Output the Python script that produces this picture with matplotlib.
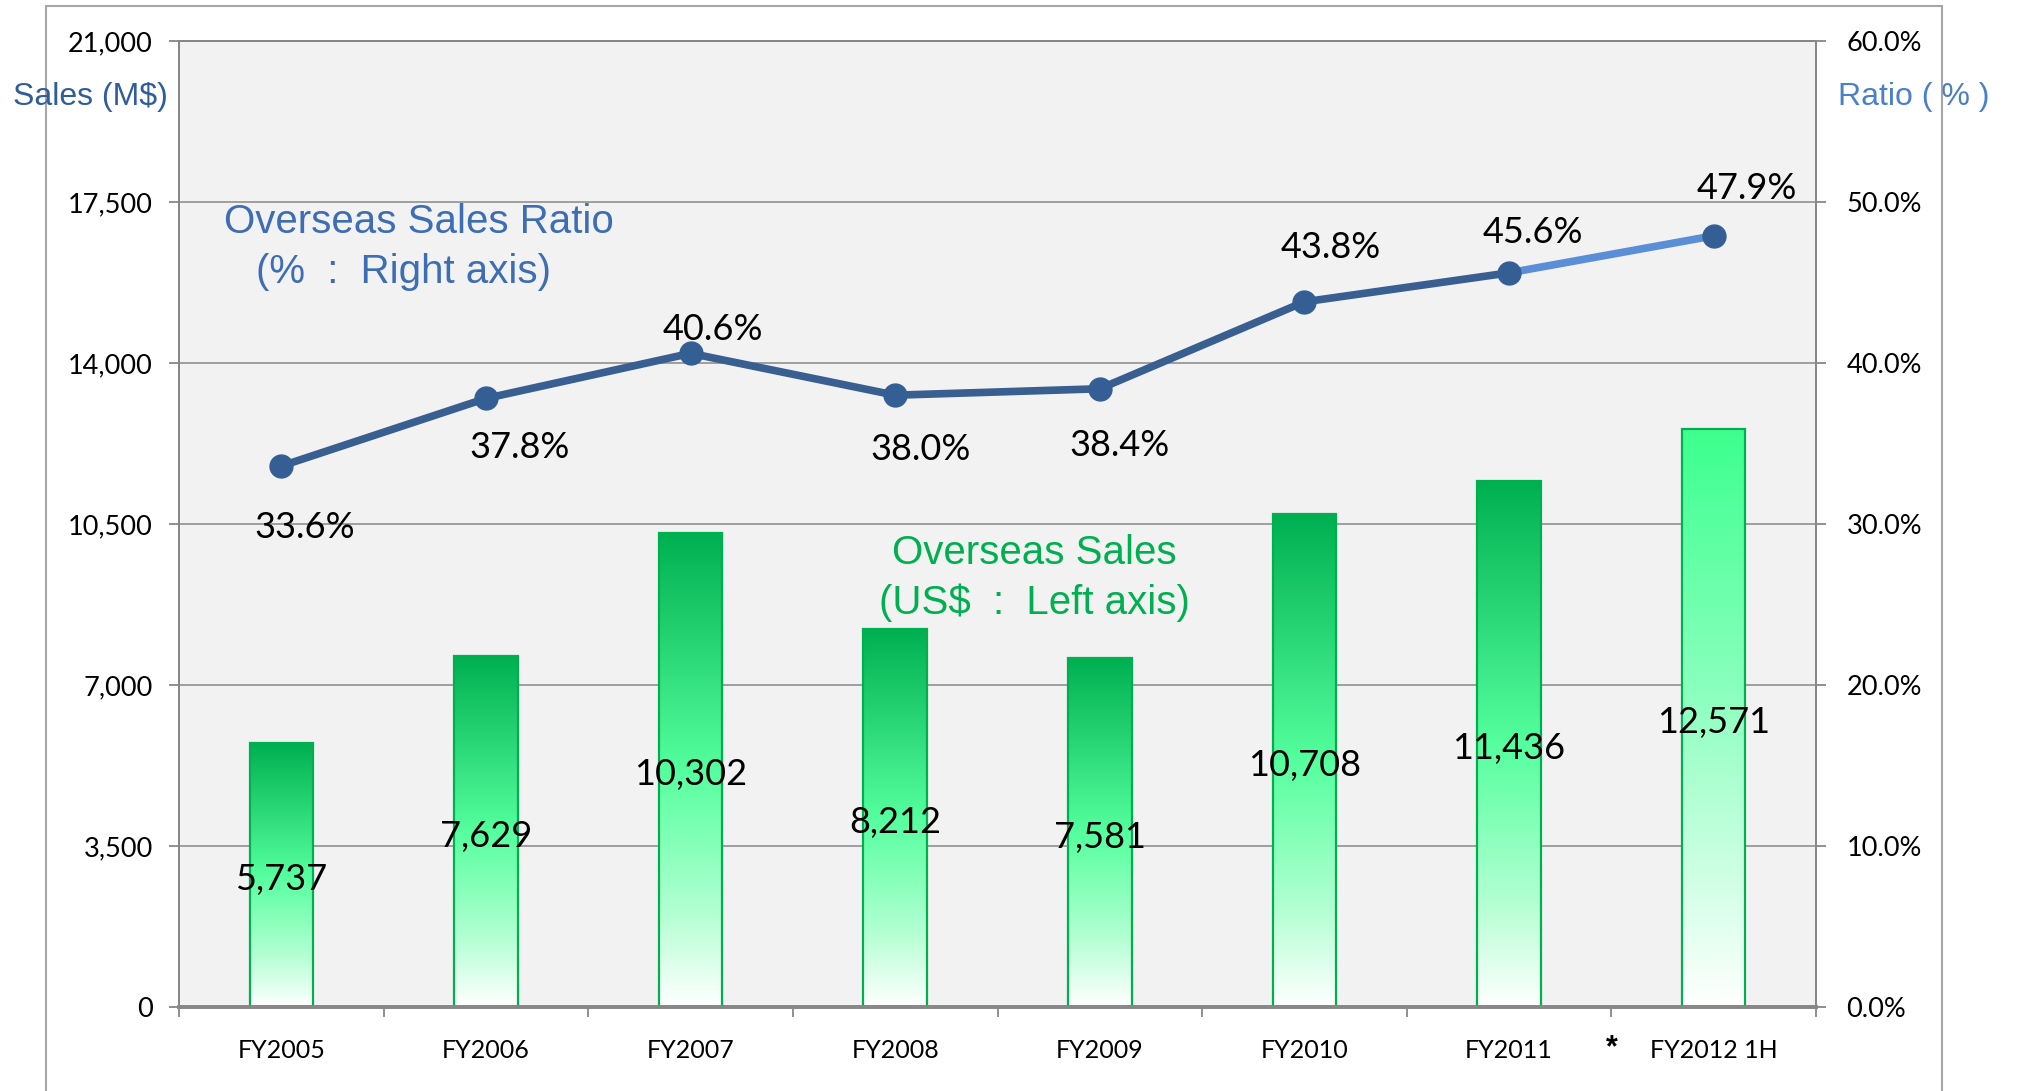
import numpy as np
import matplotlib
matplotlib.use("Agg")
import matplotlib.pyplot as plt
from matplotlib.colors import LinearSegmentedColormap
from matplotlib.patches import Rectangle
from matplotlib.ticker import FuncFormatter, FixedLocator

# ---------------- data ----------------
categories = ["FY2005", "FY2006", "FY2007", "FY2008", "FY2009", "FY2010", "FY2011", "FY2012 1H"]
overseas_sales = [5737, 7629, 10302, 8212, 7581, 10708, 11436, 12571]
overseas_ratio = [33.6, 37.8, 40.6, 38.0, 38.4, 43.8, 45.6, 47.9]
left_ticks = [0, 3500, 7000, 10500, 14000, 17500, 21000]
right_ticks = [0, 10, 20, 30, 40, 50, 60]

# label offsets (points) for ratio labels
ratio_label_offsets = [(17, -44), (24, -35), (16, 17), (18, -39), (14, -41), (19, 39), (17, 29), (24, 34)]

W, H = 2020, 1091
DPI = 100
fig = plt.figure(figsize=(W / DPI, H / DPI), dpi=DPI)
fig.patch.set_facecolor("white")

def px(x, y):
    return x / W, 1 - y / H

L, R, T, B = 179, 1816, 41, 1007
ax = fig.add_axes([L / W, 1 - B / H, (R - L) / W, (B - T) / H])
ax.set_facecolor("#F2F2F2")
ax2 = ax.twinx()
ax2.patch.set_visible(False)

GRAY = "#878787"
NUM_FONT = ["Lato", "DejaVu Sans"]
ARIAL = ["Liberation Sans", "DejaVu Sans"]

x = np.arange(len(categories))

# ---------------- bars with gradient ----------------
bar_w = 0.31
bars = ax.bar(x, overseas_sales, width=bar_w, facecolor="none",
              edgecolor="#00B050", linewidth=1.6, zorder=3)

cmap_normal = LinearSegmentedColormap.from_list(
    "g1", [(0.0, "#00B050"), (0.5, "#55FF9E"), (0.8, "#B2FFD2"), (1.0, "#FFFFFF")])
cmap_last = LinearSegmentedColormap.from_list(
    "g2", [(0.0, "#3CFF8E"), (0.45, "#8AFFBE"), (1.0, "#FFFFFF")])
grad = np.linspace(0, 1, 256).reshape(-1, 1)
for i, b in enumerate(bars):
    cm = cmap_last if i == len(bars) - 1 else cmap_normal
    x0 = b.get_x()
    im = ax.imshow(grad, cmap=cm, aspect="auto", origin="upper",
                   extent=[x0, x0 + b.get_width(), 0, b.get_height()],
                   zorder=2, interpolation="bilinear")
    im.set_clip_path(b)

for i, v in enumerate(overseas_sales):
    ax.text(x[i], v / 2 - 100, f"{v:,}", ha="center", va="center",
            fontsize=26, family=NUM_FONT, color="black", zorder=5)

# ---------------- axes styling ----------------
ax.set_xlim(-0.5, len(categories) - 0.5)
ax.set_ylim(0, 21000)
ax2.set_ylim(0, 60)

ax.yaxis.set_major_locator(FixedLocator(left_ticks))
ax.yaxis.set_major_formatter(FuncFormatter(lambda v, p: f"{int(v):,}"))
ax2.yaxis.set_major_locator(FixedLocator(right_ticks))
ax2.yaxis.set_major_formatter(FuncFormatter(lambda v, p: f"{v:.1f}%"))

ax.grid(axis="y", color=GRAY, linewidth=1.1, zorder=1)
ax.set_axisbelow(True)

ax.set_xticks(np.arange(-0.5, len(categories), 1.0))
ax.set_xticklabels([])
ax.set_xticks(x, minor=True)
ax.set_xticklabels(categories, minor=True, fontsize=18, family=NUM_FONT)
ax.tick_params(axis="x", which="major", direction="out", length=7, width=1.3, color=GRAY)
ax.tick_params(axis="x", which="minor", length=0, pad=23)

ax.tick_params(axis="y", direction="out", length=7, width=1.3, color=GRAY, pad=12,
               labelsize=19.5)
ax2.tick_params(axis="y", direction="out", length=7, width=1.3, color=GRAY, pad=15,
                labelsize=19.5)
for lab in ax.get_yticklabels() + ax2.get_yticklabels():
    lab.set_family(NUM_FONT)

for a in (ax, ax2):
    for s in ("left", "right", "top"):
        a.spines[s].set_color(GRAY)
        a.spines[s].set_linewidth(1.3)
    a.spines["bottom"].set_color(GRAY)
    a.spines["bottom"].set_linewidth(2.6)

# ---------------- ratio line ----------------
DARK = "#395E90"
LIGHT = "#5A8FD8"
ax2.plot(x[:-1], overseas_ratio[:-1], color=DARK, lw=5.5, zorder=4, solid_capstyle="round")
ax2.plot(x[-2:], overseas_ratio[-2:], color=LIGHT, lw=5.5, zorder=4, solid_capstyle="round")
ax2.plot(x, overseas_ratio, linestyle="none", marker="o", markersize=16.5,
         markerfacecolor="#345F95", markeredgecolor="#345F95", zorder=5)
for i, v in enumerate(overseas_ratio):
    dx, dy = ratio_label_offsets[i]
    ax2.annotate(f"{v:.1f}%", (x[i], v), xytext=(dx, dy), textcoords="offset points",
                 ha="center", va="center", fontsize=26, family=NUM_FONT, color="black",
                 zorder=6)

# asterisk between FY2011 and FY2012 1H
ax.annotate("*", (6.5, 0), xycoords=("data", "axes fraction"), xytext=(0, -30),
            textcoords="offset points", ha="center", va="center", fontsize=22,
            fontweight="bold", family=ARIAL, annotation_clip=False)

# ---------------- text annotations ----------------
BLUE_T = "#3D6DB2"
GREEN_T = "#00B050"
fig.text(*px(419, 222), "Overseas Sales Ratio", ha="center", va="center",
         fontsize=29, family=ARIAL, color=BLUE_T)
fig.text(*px(404, 272), "(%  :  Right axis)", ha="center", va="center",
         fontsize=29, family=ARIAL, color=BLUE_T)
fig.text(*px(1034, 553), "Overseas Sales", ha="center", va="center",
         fontsize=29, family=ARIAL, color=GREEN_T)
fig.text(*px(1034, 603), "(US$  :  Left axis)", ha="center", va="center",
         fontsize=29, family=ARIAL, color=GREEN_T)

fig.text(*px(13, 97), "Sales (M$)", ha="left", va="center",
         fontsize=23, family=ARIAL, color="#2F5D9B")
fig.text(*px(1838, 97), "Ratio ( % )", ha="left", va="center",
         fontsize=23, family=ARIAL, color="#4A80C8")

# outer frame
fx0, fy0 = px(46, 1200)
fx1, fy1 = px(1942, 6)
fig.patches.append(Rectangle((fx0, fy0), fx1 - fx0, fy1 - fy0, transform=fig.transFigure,
                             fill=False, edgecolor="#A6A6A6", linewidth=1.5, zorder=0))

fig.savefig("out.png", dpi=DPI)
